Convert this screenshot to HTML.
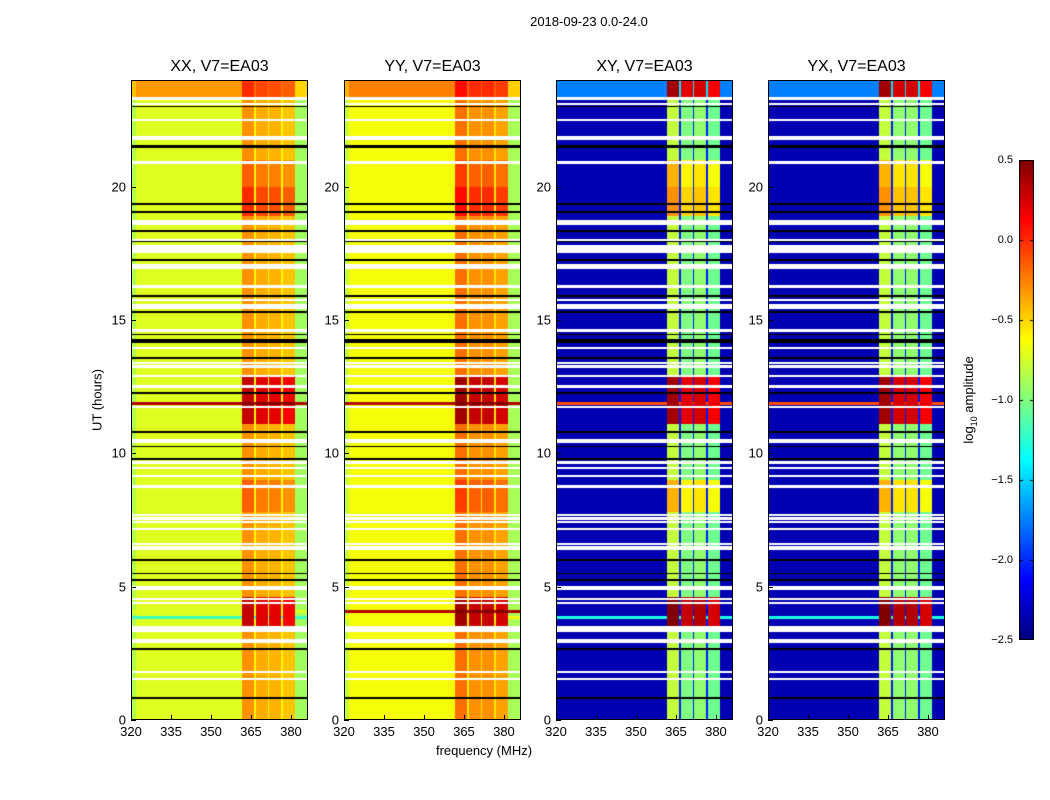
<!DOCTYPE html>
<html><head><meta charset="utf-8"><style>
body{margin:0;background:#fff;width:1050px;height:800px;position:relative;overflow:hidden;font-family:"Liberation Sans",sans-serif}
.t{position:absolute;white-space:nowrap;color:#000}
canvas{position:absolute}
</style></head><body>
<div class="t" style="left:589px;top:14px;font-size:13px;transform:translateX(-50%)">2018-09-23 0.0-24.0</div>
<div class="t" style="left:97px;top:400px;font-size:13px;transform:translate(-50%,-50%) rotate(-90deg)">UT (hours)</div>
<div class="t" style="left:484px;top:743px;font-size:13px;transform:translateX(-50%)">frequency (MHz)</div>
<div class="t" style="left:970px;top:400px;font-size:13px;transform:translate(-50%,-50%) rotate(-90deg)">log<sub style="font-size:9px">10</sub> amplitude</div>
<div id="root"></div>
<script>
// ---- data ----
const panelTitles=["XX, V7=EA03","YY, V7=EA03","XY, V7=EA03","YX, V7=EA03"];
const xTicks=[320,335,350,365,380];
const yTicks=[0,5,10,15,20];
const cbTicks=[0.5,0.0,-0.5,-1.0,-1.5,-2.0,-2.5];
// spectral segments (MHz) and log10 amplitude levels per product
const segStart=[320,322,361.8,366.2,366.8,371.3,371.8,376.3,376.9,381.4];
const segEnd  =[322,361.8,366.2,366.8,371.3,371.8,376.3,376.9,381.4,387];
const segIsBand=[0,0,1,0,1,0,1,0,1,0];
const levelXX=[-0.85,-0.72,-0.3,-0.6,-0.38,-0.6,-0.4,-0.6,-0.45,-0.9];
const levelYY=[-0.8,-0.65,-0.2,-0.55,-0.3,-0.55,-0.3,-0.55,-0.35,-0.88];
const levelXY=[-2.35,-2.35,-0.8,-2.05,-1.0,-2.05,-0.95,-2.05,-1.05,-2.35];
const levelYX=[-2.35,-2.35,-0.8,-2.05,-0.95,-2.05,-0.95,-2.05,-1.05,-2.35];
// time events (hours): band boost for parallel and cross products
const evStart=[3.5,11.1,7.8,18.9,20.0,23.3];
const evEnd  =[4.6,12.9,9.0,20.0,21.0,24.0];
const evBoostPar=[0.6,0.6,0.15,0.3,0.15,0.3];
const evBoostCross=[1.3,1.2,0.4,0.5,0.4,1.2];
const evBgCross=[0,0,0,0,0,0.6];
const evBgPar=[0,0,0,0,0,0.4];
// broadband lines
const lineHour=[11.88,4.08,3.85];
const lineLevelXX=[0.35,-0.72,-1.2];
const lineLevelYY=[0.35,0.35,-0.65];
const lineLevelX=[-0.1,-2.35,-1.3];
// flagged rows (white) and black rows
const whiteHours=[23.30,23.10,22.49,21.86,21.78,20.91,18.70,18.60,17.99,17.76,17.65,17.56,17.01,16.26,15.76,15.51,14.61,13.95,13.39,13.25,12.91,12.51,11.73,10.47,9.66,9.46,9.15,8.76,7.69,7.56,7.43,7.16,6.59,6.44,4.94,4.54,4.38,3.44,3.35,3.0,2.93,1.81,1.53];
const whiteWidth=[0.05,0.05,0.05,0.05,0.05,0.05,0.05,0.05,0.05,0.05,0.05,0.05,0.12,0.05,0.05,0.12,0.05,0.05,0.05,0.05,0.05,0.05,0.05,0.12,0.05,0.05,0.05,0.05,0.05,0.05,0.05,0.05,0.05,0.12,0.12,0.05,0.05,0.12,0.05,0.05,0.05,0.05,0.05];
const blackHours=[23.01,21.51,19.36,19.06,18.34,17.95,17.24,15.89,15.29,14.45,14.21,13.58,12.26,10.79,10.25,9.79,6.0,5.5,5.25,2.66,0.81];
const blackWidth=[0.04,0.12,0.04,0.04,0.04,0.04,0.04,0.04,0.04,0.04,0.12,0.04,0.04,0.04,0.04,0.04,0.04,0.04,0.04,0.04,0.06];
const levels=[levelXX,levelYY,levelXY,levelYX];
const lineLevels=[lineLevelXX,lineLevelYY,lineLevelX,lineLevelX];

// ---- layout ----
const panelX=[131,344,556,768], PW=177, PT=80, PH=640;
const FMIN=320,FMAX=386.4,HMIN=0,HMAX=24,VMIN=-2.5,VMAX=0.5;
const fx=(f,i)=>panelX[i]+(f-FMIN)/(FMAX-FMIN)*PW;
const hy=h=>PT+PH-(h-HMIN)/(HMAX-HMIN)*PH;
function jet(v){let t=(v-VMIN)/(VMAX-VMIN);t=Math.max(0,Math.min(1,t));
 const c=x=>Math.max(0,Math.min(1,x));
 return [c(1.5-Math.abs(4*t-3)),c(1.5-Math.abs(4*t-2)),c(1.5-Math.abs(4*t-1))].map(x=>Math.round(x*255));}
const root=document.getElementById('root');
function txt(s,x,y,name,extra){const d=document.createElement('div');d.className='t';d.textContent=s;
 d.style.left=x+'px';d.style.top=y+'px';d.style.cssText+=extra||'';
 
 
 root.appendChild(d);return d;}
for(let i=0;i<4;i++){
 const cv=document.createElement('canvas');cv.width=PW;cv.height=PH;
 cv.style.left=panelX[i]+'px';cv.style.top=PT+'px';
 
 
 root.appendChild(cv);
 const ctx=cv.getContext('2d');const im=ctx.createImageData(PW,PH);
 const cross=i>=2;const lv=levels[i];
 for(let py=0;py<PH;py++){
  const h=HMAX-(py+0.5)/PH*(HMAX-HMIN);
  let bb=0,bg=0;
  for(let e=0;e<evStart.length;e++) if(h>=evStart[e]&&h<evEnd[e]){bb+=cross?evBoostCross[e]:evBoostPar[e];bg+=cross?evBgCross[e]:evBgPar[e];}
  let lineV=null;
  for(let l=0;l<lineHour.length;l++) if(Math.abs(h-lineHour[l])<0.05) lineV=lineLevels[i][l];
  let white=false,black=false;
  for(let k=0;k<whiteHours.length;k++) if(Math.abs(h-whiteHours[k])<whiteWidth[k]/2+0.02) white=true;
  for(let k=0;k<blackHours.length;k++) if(Math.abs(h-blackHours[k])<blackWidth[k]/2+0.01) black=true;
  for(let px=0;px<PW;px++){
   const f=FMIN+(px+0.5)/PW*(FMAX-FMIN);
   let s=0;for(let k=0;k<segStart.length;k++) if(f>=segStart[k]&&f<segEnd[k]){s=k;break;}
   let v=lv[s]+(segIsBand[s]?bb:bg);
   if(lineV!==null) v=segIsBand[s]?Math.max(v,lineV+0.3):lineV;
   let c=jet(v);
   if(white) c=[255,255,255]; else if(black) c=[0,0,0];
   const o=(py*PW+px)*4;im.data[o]=c[0];im.data[o+1]=c[1];im.data[o+2]=c[2];im.data[o+3]=255;
  }
 }
 ctx.putImageData(im,0,0);
 const fr=document.createElement('div');
 fr.style.cssText=`position:absolute;left:${panelX[i]}px;top:${PT}px;width:${PW-2}px;height:${PH-2}px;border:1px solid #000`;
 
 
 root.appendChild(fr);
 txt(panelTitles[i],panelX[i]+PW/2,58,'panel-title','font-size:16px;transform:translateX(-50%)');
 xTicks.forEach(f=>{txt(String(f),fx(f,i),724,'x-tick-label','font-size:13px;transform:translateX(-50%)');
  const tk=document.createElement('div');tk.style.cssText=`position:absolute;left:${fx(f,i)}px;top:${PT+PH-5}px;width:1px;height:5px;background:#000`;
  
  
  root.appendChild(tk);});
 yTicks.forEach(h=>{txt(String(h),panelX[i]-5,hy(h),'y-tick-label','font-size:13px;transform:translate(-100%,-50%)');
  const tk=document.createElement('div');tk.style.cssText=`position:absolute;left:${panelX[i]}px;top:${hy(h)}px;width:5px;height:1px;background:#000`;
  
  
  root.appendChild(tk);});
}
// colorbar
const CBX=1019,CBW=15,CBT=160,CBH=480;
const cb=document.createElement('canvas');cb.width=CBW;cb.height=CBH;cb.style.left=CBX+'px';cb.style.top=CBT+'px';


root.appendChild(cb);
const cc=cb.getContext('2d');
for(let y=0;y<CBH;y++){const c=jet(VMAX-(y+0.5)/CBH*(VMAX-VMIN));cc.fillStyle=`rgb(${c})`;cc.fillRect(0,y,CBW,1);}
cc.strokeStyle='#000';cc.strokeRect(0.5,0.5,CBW-1,CBH-1);
cbTicks.forEach(v=>{const y=CBT+(VMAX-v)/(VMAX-VMIN)*CBH;
 cc.fillStyle='#000';const yy=Math.min(CBH-1,Math.max(0,Math.round(y-CBT)));cc.fillRect(0,yy,4,1);cc.fillRect(CBW-4,yy,4,1);
 txt((v<0?'\u2212':'')+Math.abs(v).toFixed(1),1013,y,'colorbar-tick-label','font-size:11px;transform:translate(-100%,-50%)');});
</script>
</body></html>
